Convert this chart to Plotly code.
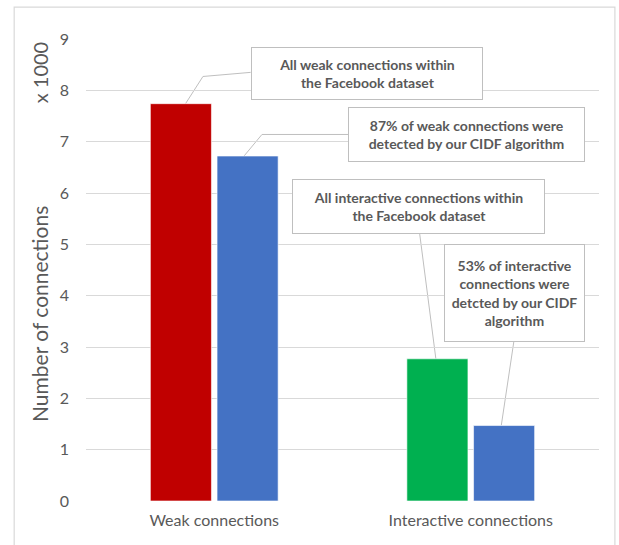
import plotly.graph_objects as go

# Connection counts, in thousands
categories = ["Weak connections", "Interactive connections"]
all_connections = [7.74, 2.77]
detected_connections = [6.72, 1.47]
all_colors = ["#c00000", "#00b050"]
detected_color = "#4472c4"
y_ticks = [0, 1, 2, 3, 4, 5, 6, 7, 8, 9]

notes = [
    "All weak connections within<br>the Facebook dataset",
    "87% of weak connections were<br>detected by our CIDF algorithm",
    "All interactive connections within<br>the Facebook dataset",
    "53% of interactive<br>connections were<br>detcted by our CIDF<br>algorithm",
]

TEXT_GREY = "#595959"
GRID_GREY = "#d9d9d9"
FONT = "Lato, 'Open Sans', sans-serif"

fig = go.Figure()
fig.add_trace(go.Bar(
    x=[0, 1], y=all_connections, name="All",
    marker=dict(color=all_colors, line=dict(color="white", width=0.6)),
))
fig.add_trace(go.Bar(
    x=[0, 1], y=detected_connections, name="Detected",
    marker=dict(color=detected_color, line=dict(color="white", width=0.6)),
))

# bar centre offsets within a category group
half_slot = (1 - 0.48) / 4

# callout boxes: (centre x, centre y, width, height)
boxes = [
    (0.595, 8.32, 230, 51),
    (0.985, 7.13, 235, 53),
    (0.798, 5.73, 251, 53),
    (1.171, 4.06, 139, 96),
]
for text, (bx, by, bw, bh) in zip(notes, boxes):
    fig.add_annotation(
        x=bx, y=by, xref="x", yref="y", text=text, showarrow=False,
        width=bw, height=bh, borderpad=0, bordercolor="#bfbfbf", borderwidth=1,
        bgcolor="white", align="center", valign="middle",
        font=dict(family=FONT, size=14, color=TEXT_GREY, weight="bold"),
    )

# leader lines from bar tops to callouts
leaders = [
    [(0 - half_slot + 0.018, all_connections[0]), (-0.044, 8.27), (0.142, 8.35)],
    [(0 + half_slot - 0.014, detected_connections[0]), (0.186, 7.14), (0.522, 7.14)],
    [(1 - half_slot - 0.006, all_connections[1]), (0.801, 5.2)],
    [(1 + half_slot - 0.011, detected_connections[1]), (1.168, 3.105)],
]
for pts in leaders:
    path = "M " + " L ".join(f"{px},{py}" for px, py in pts)
    fig.add_shape(type="path", path=path, xref="x", yref="y",
                  line=dict(color="#bfbfbf", width=1), layer="below")

# outer chart frame
fig.add_shape(type="rect", xref="paper", yref="paper",
              x0=-0.140, x1=1.031, y0=-0.15, y1=1.069,
              line=dict(color=GRID_GREY, width=1.2), fillcolor="rgba(0,0,0,0)",
              layer="below")

# axis title and unit label, both rotated
fig.add_annotation(
    text="Number of connections", xref="paper", yref="paper", x=-0.0895, y=0.405,
    textangle=-90, showarrow=False, xanchor="center", yanchor="middle",
    font=dict(family=FONT, size=21, color=TEXT_GREY),
)
fig.add_annotation(
    text="x 1000", xref="paper", yref="paper", x=-0.0895, y=0.926,
    textangle=-90, showarrow=False, xanchor="center", yanchor="middle",
    font=dict(family=FONT, size=20, color=TEXT_GREY),
)

fig.update_layout(
    width=619, height=545,
    margin=dict(l=86, r=20, t=39, b=44),
    paper_bgcolor="white", plot_bgcolor="white",
    barmode="group", bargap=0.48, bargroupgap=0.084,
    showlegend=False,
    xaxis=dict(
        tickmode="array", tickvals=[0, 1], ticktext=categories,
        range=[-0.5, 1.5], showgrid=False, zeroline=False,
        showline=False, ticks="", ticklabelstandoff=8,
        tickfont=dict(family=FONT, size=16, color=TEXT_GREY),
    ),
    yaxis=dict(
        range=[0, 9], tickvals=y_ticks, showgrid=True, gridcolor=GRID_GREY,
        gridwidth=1, zeroline=False, showline=False, ticks="",
        ticklabelstandoff=16,
        tickfont=dict(family=FONT, size=16, color=TEXT_GREY),
    ),
)

fig.write_html("out.html")
